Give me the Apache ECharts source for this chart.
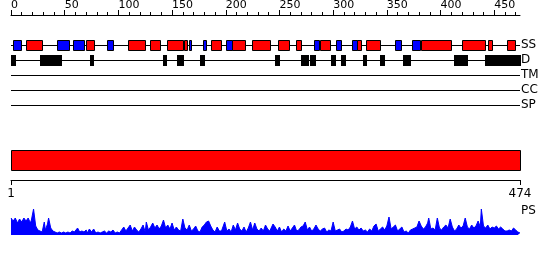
<!DOCTYPE html>
<html><head><meta charset="utf-8">
<script src="https://cdn.jsdelivr.net/npm/echarts@6/dist/echarts.min.js"></script>
<style>html,body{margin:0;padding:0;background:#fff}#c{width:550px;height:260px}</style>
</head><body><div id="c"></div><script>
const seqLength = 474;
const topMajorTicks = [0,50,100,150,200,250,300,350,400,450];
const topMinorTicks = [0,10,20,30,40,50,60,70,80,90,100,110,120,130,140,150,160,170,180,190,200,210,220,230,240,250,260,270,280,290,300,310,320,330,340,350,360,370,380,390,400,410,420,430,440,450,460,470];
const bottomTicks = [1, 474];
const trackNames = ['SS','D','TM','CC','SP'];
const trackRows = [2,3,4,5,6];
const helices = [[14,29],[70,77],[109,125],[129,139],[145,160],[161,164],[186,196],[206,218],[224,241],[249,259],[265,270],[288,297],[322,326],[331,344],[382,410],[420,441],[444,448],[462,469]];
const strands = [[2,9],[43,54],[58,68],[89,95],[166,168],[179,182],[200,205.5],[282,287],[303,307],[318,322],[358,363],[373,381]];
const disorder = [[0,4],[27,47],[74,76],[142,144],[155,157],[158,160],[176,180],[246,250],[270,272],[273,277],[278,283],[298,302],[307,311],[328,330.5],[344,347],[365,372],[413,425],[441,474]];
const domains = [[1,474]];
const psPos = [0,2,4,6,8,10,12,14,16,18,19,21,23,25,27,29,31,32,34,35,37,39,41,43,45,47,49,51,53,55,57,59,62,64,66,68,70,71,73,75,77,79,81,83,85,87,89,91,93,95,97,99,101,103,105,107,109,111,113,115,117,119,121,123,125,126,128,130,132,134,136,138,140,142,144,146,148,150,152,154,156,158,160,162,164,166,168,170,172,174,176,178,180,182,184,186,188,190,192,194,196,199,201,203,205,207,209,211,213,215,217,219,221,223,225,227,229,231,233,235,237,239,241,244,246,248,250,252,254,256,258,260,262,264,266,268,270,272,274,276,278,280,282,284,286,288,290,292,294,296,298,300,302,304,306,308,310,312,314,316,318,320,322,324,326,328,330,332,334,336,338,340,342,344,346,348,350,352,354,356,358,360,362,364,366,368,370,372,374,376,378,380,382,384,386,388,389,391,393,395,397,399,401,403,405,407,409,411,413,415,417,419,421,423,425,427,429,431,433,435,437,438,440,442,444,446,448,450,452,454,456,458,460,462,464,466,468,470,472,474];
const psVal = [17,14,17,12,16,13,17,14,17,12,15,26,9,5,4,3,13,5,11,17,7,4,3,2,3,2,3,2,3,2,4,3,7,3,4,3,5,2,6,3,6,2,3,2,3,4,2,4,3,5,2,3,2,5,8,4,7,10,4,8,5,3,6,10,3,13,5,8,12,7,10,6,9,15,7,10,6,12,5,8,5,4,16,7,5,10,4,6,9,4,3,8,10,13,14,9,5,3,8,4,4,13,4,6,3,10,5,12,6,4,8,3,7,13,5,12,6,4,7,4,10,6,4,11,8,4,8,3,6,4,9,4,7,10,4,5,8,9,13,5,8,4,6,10,6,4,6,7,3,5,4,13,4,5,6,3,4,6,5,8,14,6,8,5,7,4,5,3,6,4,9,11,4,6,8,5,9,18,6,8,10,4,6,8,3,4,2,5,6,7,8,14,9,6,8,12,17,6,7,5,17,7,5,8,10,7,16,8,4,6,10,7,9,17,8,6,10,7,9,14,8,26,9,7,10,6,8,7,9,6,8,6,4,4,5,4,7,5,3,2];

const FONT = 'DejaVu Sans';

function boxSeries(data, row, fill, outlined) {
  return {
    type: 'custom', xAxisIndex: 0, yAxisIndex: 0, silent: true, z: 3,
    data: data.map(d => [d[0], d[1], row]),
    encode: { x: [0, 1], y: 2 },
    renderItem(params, api) {
      const p0 = api.coord([api.value(0), api.value(2)]);
      const p1 = api.coord([api.value(1), api.value(2)]);
      const h = 10;
      const x0 = Math.round(p0[0]);
      const w = Math.max(1, Math.round(p1[0]) - x0);
      if (outlined) {
        return { type: 'rect',
          shape: { x: x0 + 0.5, y: Math.round(p0[1] - h / 2) + 0.5, width: w, height: h },
          style: { fill: fill, stroke: '#000', lineWidth: 1 } };
      }
      return { type: 'rect',
        shape: { x: x0, y: Math.round(p0[1] - h / 2), width: w + 1, height: h + 1 },
        style: { fill: fill } };
    }
  };
}

const option = {
  animation: false,
  backgroundColor: '#fff',
  grid: [
    { left: 11, top: 15, width: 509, height: 90 },
    { left: 11, top: 150, width: 509, height: 20 },
    { left: 11, top: 208, width: 509, height: 27 }
  ],
  xAxis: [
    { gridIndex: 0, type: 'value', position: 'top', min: 0, max: seqLength,
      axisLine: { show: true, onZero: false, lineStyle: { color: '#000', width: 1 } },
      axisTick: { show: true, customValues: topMajorTicks, length: 5, lineStyle: { color: '#000' } },
      axisLabel: { show: true, customValues: topMajorTicks, align: 'left', margin: 4, fontSize: 11, color: '#000', fontFamily: FONT },
      splitLine: { show: false } },
    { gridIndex: 0, type: 'value', position: 'top', min: 0, max: seqLength,
      axisLine: { show: false, onZero: false },
      axisTick: { show: true, customValues: topMinorTicks, length: 3, lineStyle: { color: '#000' } },
      axisLabel: { show: false }, splitLine: { show: false } },
    { gridIndex: 1, type: 'value', position: 'bottom', min: 1, max: seqLength, offset: 10,
      axisLine: { show: true, onZero: false, lineStyle: { color: '#000', width: 1 } },
      axisTick: { show: true, customValues: bottomTicks, length: 5, lineStyle: { color: '#000' } },
      axisLabel: { show: true, customValues: bottomTicks, margin: 8, fontSize: 12, color: '#000', fontFamily: FONT },
      splitLine: { show: false } },
    { gridIndex: 2, type: 'value', min: 0, max: seqLength, show: false, axisLine: { onZero: false } }
  ],
  yAxis: [
    { gridIndex: 0, type: 'value', min: 0, max: 6, inverse: true, position: 'right',
      axisLine: { show: false, onZero: false }, axisTick: { show: false }, splitLine: { show: false },
      axisLabel: { show: true, customValues: trackRows, formatter: v => trackNames[trackRows.indexOf(v)], margin: 1, fontSize: 12, color: '#000', fontFamily: FONT } },
    { gridIndex: 1, type: 'value', min: 0, max: 1, show: false, axisLine: { onZero: false } },
    { gridIndex: 2, type: 'value', min: 0, max: 27, position: 'right',
      axisLine: { show: false, onZero: false }, axisTick: { show: false }, splitLine: { show: false }, axisLabel: { show: false },
      name: 'PS', nameLocation: 'end', nameGap: -3,
      nameTextStyle: { align: 'left', verticalAlign: 'middle', fontSize: 12, color: '#000', fontFamily: FONT, padding: [0, 0, 0, 1] } }
  ],
  series: [
    { type: 'custom', xAxisIndex: 0, yAxisIndex: 0, silent: true, z: 2,
      data: trackRows.map(r => [0, seqLength, r]),
      encode: { x: [0, 1], y: 2 },
      renderItem(params, api) {
        const p0 = api.coord([api.value(0), api.value(2)]);
        const p1 = api.coord([api.value(1), api.value(2)]);
        const y = Math.round(p0[1]) + 0.5;
        return { type: 'line', shape: { x1: p0[0], y1: y, x2: p1[0], y2: y }, style: { stroke: '#000', lineWidth: 1 } };
      } },
    boxSeries(helices, trackRows[0], '#ff0000', true),
    boxSeries(strands, trackRows[0], '#0000ff', true),
    boxSeries(disorder, trackRows[1], '#000000', false),
    { type: 'custom', xAxisIndex: 2, yAxisIndex: 1, silent: true,
      data: domains.map(d => [d[0], d[1]]),
      encode: { x: [0, 1] },
      renderItem(params, api) {
        const p0 = api.coord([api.value(0), 1]);
        const p1 = api.coord([api.value(1), 0]);
        return { type: 'rect',
          shape: { x: Math.round(p0[0]) + 0.5, y: Math.round(p0[1]) + 0.5, width: Math.round(p1[0] - p0[0]), height: Math.round(p1[1] - p0[1]) },
          style: { fill: '#ff0000', stroke: '#000', lineWidth: 1 } };
      } },
    { type: 'line', xAxisIndex: 3, yAxisIndex: 2, silent: true, showSymbol: false, symbol: 'none',
      data: psPos.map((p, i) => [p, psVal[i]]),
      lineStyle: { color: '#0000ff', width: 1 },
      areaStyle: { color: '#0000ff', opacity: 1 } }
  ]
};
const chart = echarts.init(document.getElementById('c'), null, { renderer: 'canvas' });
chart.setOption(option);
</script></body></html>
